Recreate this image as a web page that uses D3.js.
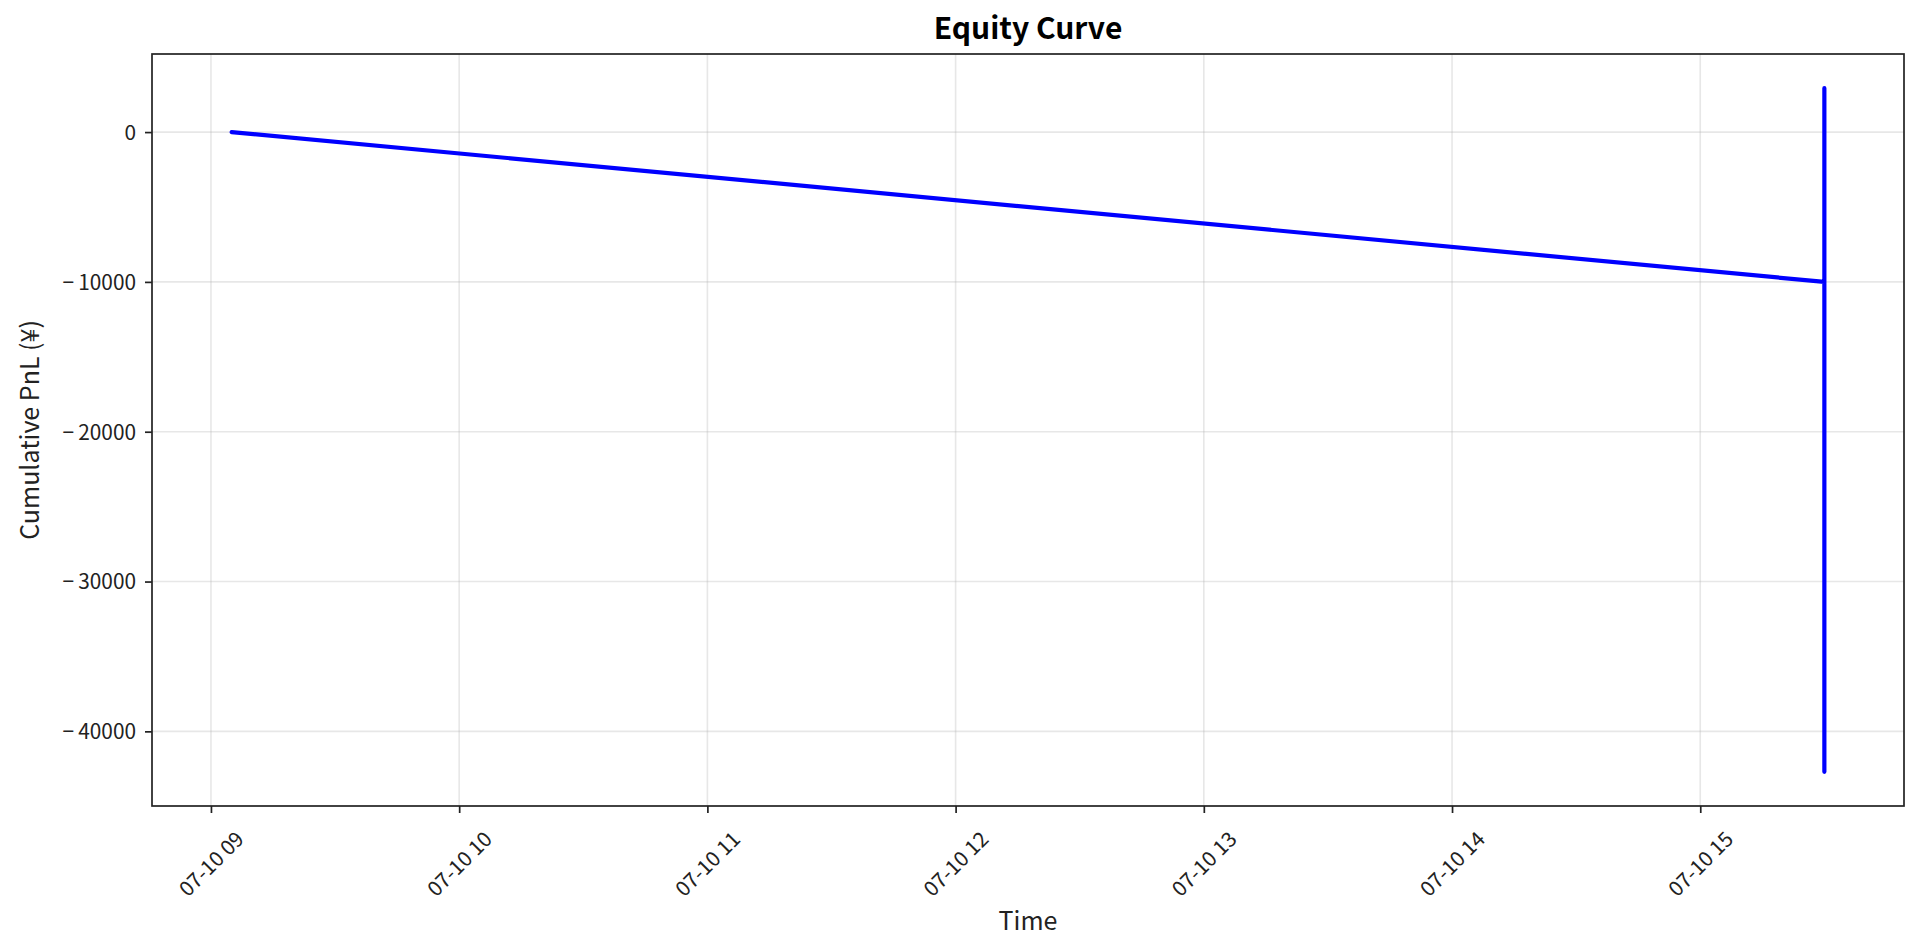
<!DOCTYPE html>
<html><head><meta charset="utf-8">
<script src="https://cdn.jsdelivr.net/npm/d3@7"></script>
<style>
body{margin:0;background:#fff;}
text{font-family:"Noto Sans CJK JP","Noto Sans",sans-serif;fill:#222;}
</style></head>
<body><svg id="c" width="1920" height="951"></svg>
<script>
// Data
const times = ["2025-07-10 09:05", "2025-07-10 15:30", "2025-07-10 15:30", "2025-07-10 15:30"];
const pnl = [0, -10000, 2930, -42700];
const xTickHours = [9, 10, 11, 12, 13, 14, 15];
const yTickValues = [0, -10000, -20000, -30000, -40000];

const parse = s => { const [d, t] = s.split(" "); const [Y, M, D] = d.split("-").map(Number); const [h, m] = t.split(":").map(Number); return new Date(Y, M - 1, D, h, m); };
const data = times.map((t, i) => ({ t: parse(t), v: pnl[i] }));

const L = 152, R = 1904, T = 54, B = 806;
const svg = d3.select("#c");

const tExt = d3.extent(data, d => d.t);
const tPad = (tExt[1] - tExt[0]) * 0.05;
const x = d3.scaleTime().domain([new Date(+tExt[0] - tPad), new Date(+tExt[1] + tPad)]).range([L, R]);
const vExt = d3.extent(data, d => d.v);
const vPad = (vExt[1] - vExt[0]) * 0.05;
const y = d3.scaleLinear().domain([vExt[0] - vPad, vExt[1] + vPad]).range([B, T]);

const xTicks = xTickHours.map(h => new Date(2025, 6, 10, h, 0));

// grid
const g = svg.append("g");
g.selectAll(".gx").data(xTicks).enter().append("line")
  .attr("x1", d => x(d)).attr("x2", d => x(d)).attr("y1", T).attr("y2", B)
  .attr("stroke", "#b0b0b0").attr("stroke-opacity", 0.3).attr("stroke-width", 1.6);
g.selectAll(".gy").data(yTickValues).enter().append("line")
  .attr("x1", L).attr("x2", R).attr("y1", d => y(d)).attr("y2", d => y(d))
  .attr("stroke", "#b0b0b0").attr("stroke-opacity", 0.3).attr("stroke-width", 1.6);

// line
svg.append("path").datum(data)
  .attr("d", d3.line().x(d => x(d.t)).y(d => y(d.v)))
  .attr("fill", "none").attr("stroke", "#0000ff").attr("stroke-width", 4.2)
  .attr("stroke-linejoin", "round").attr("stroke-linecap", "round");

// axes
const fmt = d3.timeFormat("%m-%d %H");
const xAxis = svg.append("g").attr("transform", `translate(0,${B})`)
  .call(d3.axisBottom(x).tickValues(xTicks).tickFormat(fmt).tickSize(7).tickSizeOuter(0));
xAxis.select(".domain").remove();
xAxis.selectAll(".tick line").attr("stroke", "#222").attr("stroke-width", 1.7);
xAxis.selectAll(".tick text")
  .attr("font-size", 20.8).attr("text-anchor", "middle").attr("dy", "0.35em").attr("y", 0)
  .attr("transform", "translate(0,58) rotate(-45)");

const yAxis = svg.append("g").attr("transform", `translate(${L},0)`)
  .call(d3.axisLeft(y).tickValues(yTickValues).tickFormat(d => d < 0 ? "\u2212\u2009" + Math.abs(d) : String(d)).tickSize(7).tickSizeOuter(0));
yAxis.select(".domain").remove();
yAxis.selectAll(".tick line").attr("stroke", "#222").attr("stroke-width", 1.7);
yAxis.selectAll(".tick text").attr("font-size", 20.8).attr("x", -16).attr("dy", "0.35em");

// frame
svg.append("rect").attr("x", L).attr("y", T).attr("width", R - L).attr("height", B - T)
  .attr("fill", "none").attr("stroke", "#222").attr("stroke-width", 1.7);

// labels
svg.append("text").attr("x", (L + R) / 2).attr("y", 39).attr("text-anchor", "middle")
  .attr("font-size", 30).attr("font-weight", "bold").style("fill", "#000").text("Equity Curve");
svg.append("text").attr("x", (L + R) / 2).attr("y", 930).attr("text-anchor", "middle")
  .attr("font-size", 25).text("Time");
svg.append("text").attr("transform", `translate(39,${(T + B) / 2}) rotate(-90)`).attr("text-anchor", "middle")
  .attr("font-size", 25).text("Cumulative PnL (¥)");
</script></body></html>
